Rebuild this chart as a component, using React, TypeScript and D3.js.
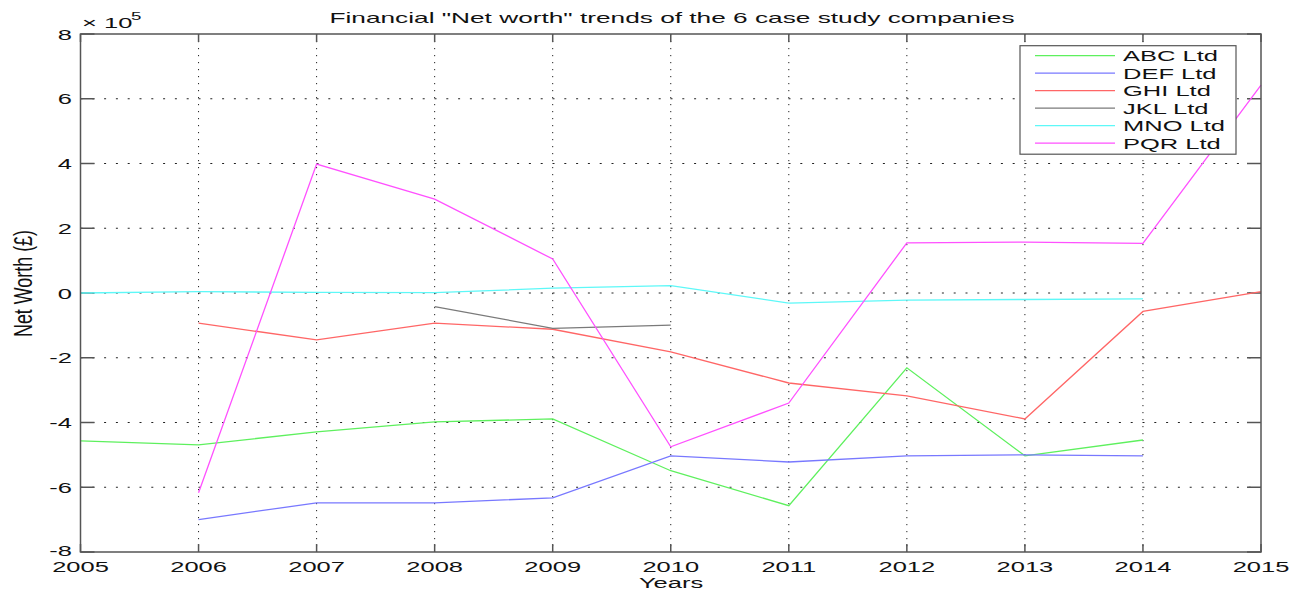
import React from "react";
import * as d3 from "d3";

const years = [2005, 2006, 2007, 2008, 2009, 2010, 2011, 2012, 2013, 2014, 2015];
const yTicks = [-8, -6, -4, -2, 0, 2, 4, 6, 8];

const companies = ["ABC Ltd", "DEF Ltd", "GHI Ltd", "JKL Ltd", "MNO Ltd", "PQR Ltd"];
const colors = ["#5ef05e", "#7878ff", "#ff6666", "#7a7a7a", "#5ef8f8", "#ff50ff"];

// values in units of 10^5 £
const abc = [-4.57, -4.69, -4.29, -3.98, -3.89, -5.49, -6.57, -2.31, -5.03, -4.54, null];
const def = [null, -7.0, -6.48, -6.48, -6.33, -5.03, -5.22, -5.03, -5.0, -5.03, null];
const ghi = [null, -0.93, -1.45, -0.93, -1.12, -1.82, -2.78, -3.18, -3.89, -0.57, 0.04];
const jkl = [null, null, null, -0.42, -1.09, -0.99, null, null, null, null, null];
const mno = [0.0, 0.04, 0.02, 0.01, 0.15, 0.23, -0.31, -0.22, -0.2, -0.18, null];
const pqr = [null, -6.17, 3.98, 2.9, 1.05, -4.75, -3.4, 1.55, 1.57, 1.53, 6.42];

const series = [abc, def, ghi, jkl, mno, pqr];

const W = 1303;
const H = 590;
const L = 80.5, R = 1261, T = 34, B = 552;
const SX = 1.7;
const FONT = "'Liberation Sans', Arial, sans-serif";
const AX = "#555";

export default function App() {
  const x = d3.scaleLinear().domain([2005, 2015]).range([L, R]);
  const y = d3.scaleLinear().domain([-8, 8]).range([B, T]);
  const line = d3
    .line<number | null>()
    .defined((d) => d !== null)
    .x((_, i) => x(years[i]))
    .y((d) => y(d as number));

  const txt = (
    key: string,
    tx: number,
    ty: number,
    s: string,
    anchor: string,
    size = 15
  ) => (
    <text
      key={key}
      transform={`translate(${tx},${ty}) scale(${SX},1)`}
      textAnchor={anchor}
      fontSize={size}
      fontFamily={FONT}
      fill="#111"
    >
      {s}
    </text>
  );

  const legX = 1020, legY = 45.7, legW = 216, legH = 108.5, rowH = 17.5;

  return (
    <svg
      width={W}
      height={H}
      style={{ position: "absolute", left: 0, top: 0, background: "#fff" }}
    >
      <rect x={0} y={0} width={W} height={H} fill="#fff" />
      {/* grid */}
      {years.slice(1, -1).map((yr) => (
        <line
          key={"gx" + yr}
          x1={x(yr)}
          x2={x(yr)}
          y1={T}
          y2={B}
          stroke="#222"
          strokeWidth={1}
          strokeDasharray="1.2,5.8"
        />
      ))}
      {yTicks.slice(1, -1).map((v) => (
        <line
          key={"gy" + v}
          x1={L}
          x2={R}
          y1={y(v)}
          y2={y(v)}
          stroke="#222"
          strokeWidth={1}
          strokeDasharray="2,9.8"
        />
      ))}
      {/* ticks */}
      {years.map((yr) => (
        <g key={"tx" + yr}>
          <line x1={x(yr)} x2={x(yr)} y1={B} y2={B - 8} stroke={AX} strokeWidth={1.5} />
          <line x1={x(yr)} x2={x(yr)} y1={T} y2={T + 8} stroke={AX} strokeWidth={1.5} />
        </g>
      ))}
      {yTicks.map((v) => (
        <g key={"ty" + v}>
          <line x1={L} x2={L + 14} y1={y(v)} y2={y(v)} stroke={AX} strokeWidth={1.5} />
          <line x1={R} x2={R - 14} y1={y(v)} y2={y(v)} stroke={AX} strokeWidth={1.5} />
        </g>
      ))}
      {/* series */}
      {series.map((s, i) => (
        <path
          key={"s" + i}
          d={line(s) || ""}
          fill="none"
          stroke={colors[i]}
          strokeWidth={1.3}
        />
      ))}
      {/* frame */}
      <rect x={L} y={T} width={R - L} height={B - T} fill="none" stroke={AX} strokeWidth={1.5} />
      {/* tick labels */}
      {years.map((yr) => txt("lx" + yr, x(yr), 572, String(yr), "middle"))}
      {yTicks.map((v) => txt("ly" + v, 72, y(v) + (v === -8 ? 3.5 : 5.5), String(v), "end"))}
      {/* exponent */}
      {txt("exp", 82, 28, "× 10", "start", 15)}
      {txt("exp5", 131, 20, "5", "start", 11)}
      {/* title */}
      <text
        x={672}
        y={23}
        textAnchor="middle"
        fontSize={14.5}
        fontFamily={FONT}
        fill="#111"
        textLength={685}
        lengthAdjust="spacingAndGlyphs"
      >
        Financial "Net worth" trends of the 6 case study companies
      </text>
      {/* axis labels */}
      {txt("xl", 671, 588, "Years", "middle")}
      <text
        transform={`translate(32,283.5) scale(${SX},1) rotate(-90)`}
        textAnchor="middle"
        fontSize={15}
        fontFamily={FONT}
        fill="#111"
        textLength={107}
        lengthAdjust="spacingAndGlyphs"
      >
        Net Worth (£)
      </text>
      {/* legend */}
      <rect x={legX} y={legY} width={legW} height={legH} fill="#fff" stroke={AX} strokeWidth={1.2} />
      {companies.map((c, i) => {
        const cy = legY + 10 + i * rowH;
        return (
          <g key={"lg" + i}>
            <line x1={1035} x2={1115} y1={cy} y2={cy} stroke={colors[i]} strokeWidth={1.3} />
            {txt("lt" + i, 1123, cy + 5.5, c, "start")}
          </g>
        );
      })}
    </svg>
  );
}
